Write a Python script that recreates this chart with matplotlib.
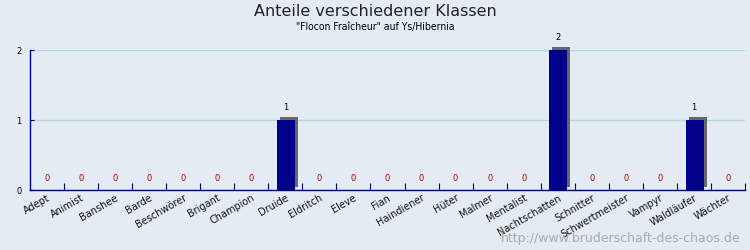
import matplotlib
matplotlib.use("Agg")
import matplotlib.pyplot as plt
import matplotlib.transforms as mtransforms
import numpy as np

klassen = ["Adept", "Animist", "Banshee", "Barde", "Beschwörer", "Brigant",
           "Champion", "Druide", "Eldritch", "Eleve", "Fian", "Haindiener",
           "Hüter", "Malmer", "Mentalist", "Nachtschatten", "Schnitter",
           "Schwertmeister", "Vampyr", "Waldläufer", "Wächter"]
anzahl = [0, 0, 0, 0, 0, 0, 0, 1, 0, 0, 0, 0, 0, 0, 0, 2, 0, 0, 0, 1, 0]
y_ticks = [0, 1, 2]

bg = "#e4ebf2"
fig = plt.figure(figsize=(7.5, 2.5), dpi=100, facecolor=bg)
ax = fig.add_axes([0.04, 0.24, 0.9533, 0.56], facecolor=bg)

x = np.arange(len(klassen))

# Schatten der Balken (3px nach rechts/oben versetzt)
shadow = mtransforms.offset_copy(ax.transData, fig=fig, x=3, y=3, units="dots")
for xi, v in zip(x, anzahl):
    if v > 0:
        ax.bar(xi + 0.02, v, width=0.53, color="#666666", transform=shadow,
               zorder=2, clip_on=False)
ax.bar(x + 0.02, anzahl, width=0.53, color="#000088", zorder=3, clip_on=False)

for xi, v in zip(x, anzahl):
    if v == 0:
        ax.annotate("0", (xi, 0), xytext=(0, 7), textcoords="offset pixels",
                    ha="center", va="bottom", fontsize=6, color="#aa0000")
    else:
        ax.annotate(str(v), (xi, v), xytext=(0, 8), textcoords="offset pixels",
                    ha="center", va="bottom", fontsize=6, color="black",
                    annotation_clip=False)

ax.set_xlim(-0.5, len(klassen) - 0.5)
ax.set_ylim(0, 2)

ax.set_yticks(y_ticks)
ax.set_yticklabels([str(t) for t in y_ticks], fontsize=6)
ax.tick_params(axis="y", direction="in", length=3, color="#000088", pad=6)
ax.yaxis.grid(True, color="#add8e6", linewidth=1, zorder=0)
ax.set_axisbelow(True)

# Striche an den Kategoriegrenzen, Beschriftung in der Mitte
ax.set_xticks(np.arange(len(klassen) + 1) - 0.5)
ax.set_xticklabels([])
ax.tick_params(axis="x", which="major", direction="in", length=5, color="#000088")
ax.tick_params(axis="x", which="minor", length=0, pad=2)
ax.set_xticks(x, labels=klassen, minor=True)
for lbl in ax.get_xticklabels(minor=True):
    lbl.set_rotation(30)
    lbl.set_ha("right")
    lbl.set_rotation_mode("anchor")
    lbl.set_fontsize(7)
    lbl.set_color("#111111")

for side in ["top", "right"]:
    ax.spines[side].set_visible(False)
for side in ["left", "bottom"]:
    ax.spines[side].set_color("#000088")
    ax.spines[side].set_linewidth(1)

fig.text(0.5, 0.955, "Anteile verschiedener Klassen", ha="center", va="center",
         fontsize=11.5, color="#222222")
fig.text(0.5, 0.893, "\"Flocon Fraîcheur\" auf Ys/Hibernia", ha="center",
         va="center", fontsize=7.5, color="black", fontstretch="condensed")
fig.text(0.988, 0.045, "http://www.bruderschaft-des-chaos.de", ha="right",
         va="center", fontsize=9, color="#aaaaaa")

fig.savefig("out.png", dpi=100, facecolor=bg)
